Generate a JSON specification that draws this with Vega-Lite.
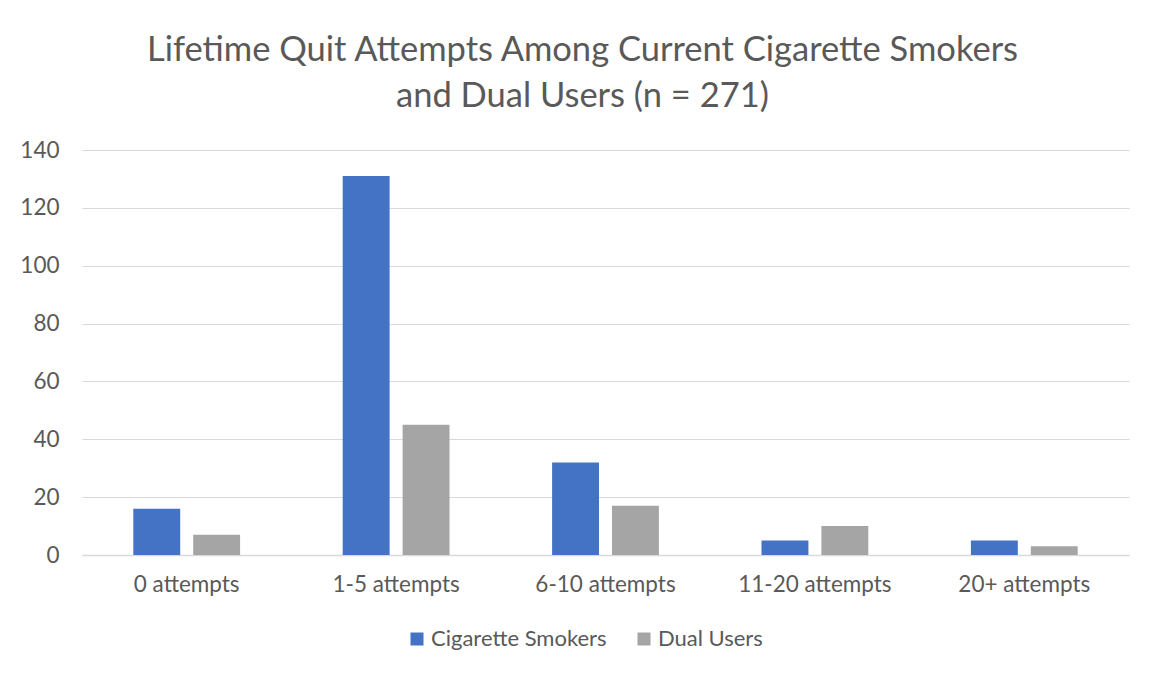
{
  "$schema": "https://vega.github.io/schema/vega-lite/v6.json",
  "width": 1047,
  "height": 405,
  "autosize": {"type": "none"},
  "padding": {"left": 82, "top": 150, "right": 24, "bottom": 120},
  "background": "white",
  "config": {
    "font": "Lato",
    "view": {"stroke": null},
    "axis": {
      "labelFont": "Lato",
      "labelColor": "#595959",
      "labelFontSize": 22.5,
      "title": null
    },
    "legend": {
      "labelFont": "Lato",
      "labelColor": "#595959",
      "labelFontSize": 22,
      "labelLimit": 400
    }
  },
  "title": {
    "text": ["Lifetime Quit Attempts Among Current Cigarette Smokers", "and Dual Users (n = 271)"],
    "font": "Lato",
    "fontSize": 34.5,
    "fontWeight": "normal",
    "color": "#595959",
    "anchor": "middle",
    "frame": "group",
    "dx": -23,
    "lineHeight": 46,
    "offset": 25
  },
  "data": {
    "values": [
      {"attempts": "0 attempts", "group": "Cigarette Smokers", "count": 16},
      {"attempts": "0 attempts", "group": "Dual Users", "count": 7},
      {"attempts": "1-5 attempts", "group": "Cigarette Smokers", "count": 131},
      {"attempts": "1-5 attempts", "group": "Dual Users", "count": 45},
      {"attempts": "6-10 attempts", "group": "Cigarette Smokers", "count": 32},
      {"attempts": "6-10 attempts", "group": "Dual Users", "count": 17},
      {"attempts": "11-20 attempts", "group": "Cigarette Smokers", "count": 5},
      {"attempts": "11-20 attempts", "group": "Dual Users", "count": 10},
      {"attempts": "20+ attempts", "group": "Cigarette Smokers", "count": 5},
      {"attempts": "20+ attempts", "group": "Dual Users", "count": 3}
    ]
  },
  "mark": {"type": "bar"},
  "encoding": {
    "x": {
      "field": "attempts",
      "type": "nominal",
      "sort": ["0 attempts", "1-5 attempts", "6-10 attempts", "11-20 attempts", "20+ attempts"],
      "scale": {"paddingInner": 0.49, "paddingOuter": 0.245},
      "axis": {
        "labelAngle": 0,
        "domainColor": "#D9D9D9",
        "domainWidth": 1.5,
        "ticks": false,
        "labelPadding": 18,
        "grid": false
      }
    },
    "xOffset": {
      "field": "group",
      "type": "nominal",
      "scale": {"paddingInner": 0.217, "paddingOuter": 0}
    },
    "y": {
      "field": "count",
      "type": "quantitative",
      "scale": {"domain": [0, 140], "nice": false},
      "axis": {
        "values": [0, 20, 40, 60, 80, 100, 120, 140],
        "domain": false,
        "ticks": false,
        "labelPadding": 23,
        "gridColor": "#D9D9D9",
        "gridWidth": 1.2
      }
    },
    "color": {
      "field": "group",
      "type": "nominal",
      "scale": {"domain": ["Cigarette Smokers", "Dual Users"], "range": ["#4472C4", "#A5A5A5"]},
      "legend": {
        "title": null,
        "orient": "none",
        "direction": "horizontal",
        "legendX": 324,
        "legendY": 478,
        "symbolType": "square",
        "symbolSize": 169,
        "symbolStrokeWidth": 0,
        "labelOffset": 3,
        "columnPadding": 26
      }
    }
  }
}
